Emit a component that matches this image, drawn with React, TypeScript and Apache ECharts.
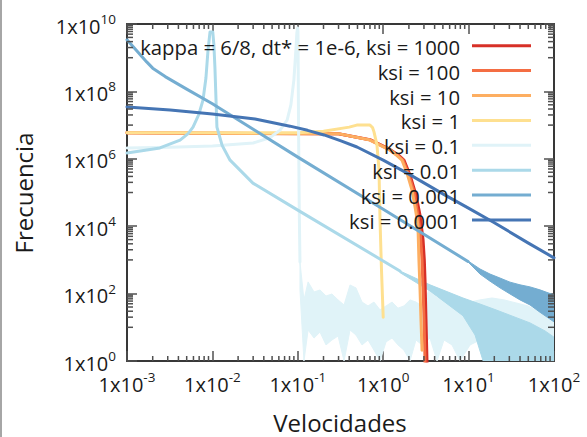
import React, { useEffect, useRef } from 'react';
import * as echarts from 'echarts';

const seriesNames = [
  'kappa = 6/8, dt* = 1e-6, ksi = 1000',
  'ksi = 100',
  'ksi = 10',
  'ksi = 1',
  'ksi = 0.1',
  'ksi = 0.01',
  'ksi = 0.001',
  'ksi = 0.0001',
];
const seriesColors = ['#d73027', '#f46d43', '#fdae61', '#fee090', '#e0f3f8', '#abd9e9', '#74add1', '#4575b4'];

const ksi1000 = [
  [0.001, 5.9e6], [0.3, 5.5e6], [0.7, 3.7e6], [1.2, 1.9e6], [1.5, 1.3e6], [1.75, 9.1e5], [2.06, 3.3e5], [2.42, 8.5e4],
  [2.7, 2.1e4], [2.93, 3.9e3], [3.03, 1.0e3], [3.09, 250], [3.17, 17], [3.26, 0.9],
];
const ksi100 = [
  [0.001, 5.9e6], [0.3, 5.5e6], [0.7, 3.65e6], [1.2, 1.85e6], [1.45, 1.3e6], [1.71, 9.1e5], [2.0, 3.3e5], [2.3, 1.0e5],
  [2.49, 3.0e4], [2.7, 7.8e3], [2.85, 1e3], [2.93, 130], [3.01, 17], [3.09, 0.9],
];
const ksi10 = [
  [0.001, 5.9e6], [0.31, 5.5e6], [0.7, 3.6e6], [1.2, 1.8e6], [1.45, 1.25e6], [1.66, 9.1e5], [1.9, 3.8e5], [2.17, 1.2e5],
  [2.36, 3.7e4], [2.55, 1.1e4], [2.62, 1000], [2.7, 130], [2.77, 16.6], [2.85, 2.1],
];
const ksi1 = [
  [0.001, 5.9e6], [0.1, 5.9e6], [0.2, 6.6e6], [0.4, 8.7e6], [0.49, 1e7], [0.7, 1e7], [0.75, 8.5e6], [0.78, 6.3e6],
  [0.845, 2.6e6], [0.893, 4.7e5], [0.918, 1.5e4], [0.955, 500], [1.0, 20],
];
const ksi01 = [
  [0.001, 2.1e6], [0.0032, 2.2e6], [0.01, 2.4e6], [0.03, 2.95e6], [0.047, 4.2e6], [0.062, 7.1e6],
  [0.075, 1.4e7], [0.083, 4e7], [0.09, 2.2e8], [0.095, 1.7e9], [0.0975, 5.5e9], [0.0995, 7.6e9], [0.1005, 6e9],
  [0.102, 1e7], [0.104, 3e4], [0.106, 870],
];
// noisy tail of ksi = 0.1 : upper and lower envelope
const ksi01TailX = [0.106, 0.118, 0.132, 0.155, 0.182, 0.214, 0.251, 0.296, 0.348, 0.409, 0.48, 0.565, 0.664, 0.78,
  0.917, 1.08, 1.27, 1.49, 1.75, 2.06, 2.42, 2.85, 3.53, 4.27, 5.15, 6.39, 7.93, 10.4, 13.6, 18.8, 26.0, 35.9, 49.6, 68.6, 100];
const ksi01TailHigh = [870, 65, 221, 112, 128, 85, 97, 65, 46, 180, 147, 56, 43, 56, 33, 43, 56, 37, 43, 65, 56, 43,
  147, 74, 97, 46, 49, 56, 65, 74, 65, 53, 43, 28, 14.4];
const ksi01TailLow = [128, 1, 8.3, 4.8, 7.2, 3.0, 4.2, 5.5, 1, 8.3, 5.9, 3.0, 4.2, 2.1, 1, 3.7, 4.8, 3.0, 2.1, 1, 4.2,
  3.0, 4.8, 1, 4.2, 3.0, 1, 3.0, 4.2, 3.7, 3.0, 3.0, 3.0, 3.0, 3.0];

const ksi001 = [
  [0.001, 1.48e6], [0.00243, 2.1e6], [0.00418, 3.6e6], [0.0052, 5.6e6], [0.00593, 8.7e6], [0.0069, 2.0e7],
  [0.00776, 5.5e7], [0.0084, 2.5e8], [0.00889, 1.7e9], [0.00938, 5.8e9], [0.0101, 5.8e9], [0.0104, 2.5e9],
  [0.0107, 5.3e8], [0.0113, 8.7e6], [0.013, 2.5e6], [0.0161, 9.1e5], [0.0298, 1.9e5],
  [0.1, 3.0e4], [1, 930], [1.57, 470],
];
const ksi001TailHigh = [[1.57, 470], [3.53, 182], [8.6, 74], [13.6, 49], [21.5, 32], [34.9, 20], [52.4, 13.5], [78.5, 7.8], [100, 5.1]];
const ksi001TailLow = [[1.57, 420], [3.53, 120], [8.6, 22], [11.9, 5.9], [14.8, 1], [100, 1]];

const ksi0001 = [
  [0.001, 3.4e9], [0.0013, 1.6e9], [0.0017, 7.5e8], [0.002, 4.9e8], [0.0028, 2.75e8], [0.005, 1.17e8], [0.01, 4.3e7], [0.1, 1.12e6],
  [1, 3.2e4], [9.84, 900],
];
const ksi0001TailX = [9.84, 13.6, 17.8, 23.3, 30.5, 40.0, 52.4, 68.5, 100];
const ksi0001TailHigh = [933, 537, 380, 290, 219, 182, 158, 129, 91];
const ksi0001TailLow = [870, 380, 234, 148, 98, 65, 46, 28, 14.5];

const ksi00001 = [
  [0.001, 3.47e7], [0.0032, 2.8e7], [0.01, 2.14e7], [0.0316, 1.51e7], [0.081, 9.3e6], [0.13, 7.0e6], [0.203, 5.1e6],
  [0.32, 3.4e6], [0.493, 2.24e6], [1, 9.1e5], [2, 3.5e5], [5, 9.1e4], [9.84, 3.5e4], [19.8, 1.29e4], [49.6, 3.2e3], [100, 1.15e3],
];

const xMin = 0.001;
const xMax = 100;
const yMin = 1;
const yMax = 1e10;
const xMinorTicks: number[] = [];
for (let d = -3; d <= 1; d++) for (let k = 2; k <= 9; k++) xMinorTicks.push(k * Math.pow(10, d));
const yMinorTicks: number[] = [];
for (let d = 1; d <= 9; d += 2) for (let k = 1; k <= 9; k++) yMinorTicks.push(k * Math.pow(10, d));

const FONT = 'Open Sans';
const AXIS_COLOR = '#383838';
const TICK_COLOR = '#505050';

function labelFormatter(v: number) {
  return `{b|1x10}{s|${Math.round(Math.log10(v))}}`;
}
const labelRich = {
  b: { fontSize: 20, fontFamily: FONT, color: '#1a1a1a', lineHeight: 24, verticalAlign: 'bottom' },
  s: { fontSize: 13.5, fontFamily: FONT, color: '#1a1a1a', lineHeight: 15, verticalAlign: 'top' },
};

function bandSeries(upper: number[][], lower: number[][], color: string) {
  return {
    type: 'custom',
    silent: true,
    clip: true,
    data: [[1, 1]],
    renderItem: (params: any, api: any) => {
      const pts = upper.map((p) => api.coord(p)).concat(lower.slice().reverse().map((p) => api.coord(p)));
      return { type: 'polygon', shape: { points: pts }, style: { fill: color, stroke: color, lineWidth: 1 } };
    },
  };
}

function lineSeries(name: string, data: number[][], color: string) {
  return {
    name,
    type: 'line',
    data,
    symbol: 'none',
    showSymbol: false,
    clip: true,
    silent: true,
    smooth: false,
    lineStyle: { color, width: 3, join: 'round', cap: 'round' },
  };
}

export default function App() {
  const ref = useRef<HTMLDivElement>(null);
  useEffect(() => {
    if (!ref.current) return;
    const chart = echarts.init(ref.current, undefined, { renderer: 'svg' });
    const zip = (xs: number[], ys: number[]) => xs.map((x, i) => [x, ys[i]]);

    const axisCommonX = {
      type: 'log',
      logBase: 10,
      min: xMin,
      max: xMax,
      splitNumber: 5,
      splitLine: { show: false },
      axisLine: { show: true, onZero: false, lineStyle: { color: AXIS_COLOR, width: 2 } },
      axisTick: { show: true, inside: true, length: 10, lineStyle: { color: TICK_COLOR, width: 1.5 } },
    };
    const axisCommonY = {
      type: 'log',
      logBase: 100,
      min: yMin,
      max: yMax,
      splitNumber: 5,
      splitLine: { show: false },
      axisLine: { show: true, onZero: false, lineStyle: { color: AXIS_COLOR, width: 2 } },
      axisTick: { show: true, inside: true, length: 10, lineStyle: { color: TICK_COLOR, width: 1.5 } },
    };

    const tickStyle = { stroke: TICK_COLOR, lineWidth: 1.5 };

    const legendGraphics: any[] = [];
    seriesNames.forEach((n, i) => {
      const y = 45.7 + i * 24.9;
      legendGraphics.push({
        type: 'text',
        x: 460,
        y: y + 1,
        silent: true,
        style: {
          text: n,
          fill: '#1a1a1a',
          font: `20.3px "${FONT}"`,
          lineHeight: 22,
          align: 'right',
          verticalAlign: 'middle',
        },
        z: 10,
      });
      legendGraphics.push({
        type: 'line',
        silent: true,
        shape: { x1: 472, y1: y, x2: 531, y2: y },
        style: { stroke: seriesColors[i], lineWidth: 3 },
        z: 10,
      });
    });

    chart.setOption({
      animation: false,
      backgroundColor: '#ffffff',
      grid: { left: 127, right: 33, top: 24, bottom: 76, containLabel: false },
      xAxis: [
        {
          ...axisCommonX,
          position: 'bottom',
          axisLabel: { show: true, margin: 9, formatter: labelFormatter, rich: labelRich },
        },
        { ...axisCommonX, position: 'top', axisLabel: { show: false } },
      ],
      yAxis: [
        {
          ...axisCommonY,
          position: 'left',
          axisLabel: { show: true, margin: 11, formatter: labelFormatter, rich: labelRich },
        },
        { ...axisCommonY, position: 'right', axisLabel: { show: false } },
      ],
      series: [
        lineSeries(seriesNames[0], ksi1000, seriesColors[0]),
        lineSeries(seriesNames[1], ksi100, seriesColors[1]),
        lineSeries(seriesNames[2], ksi10, seriesColors[2]),
        lineSeries(seriesNames[3], ksi1, seriesColors[3]),
        lineSeries(seriesNames[4], ksi01, seriesColors[4]),
        bandSeries(zip(ksi01TailX, ksi01TailHigh), zip(ksi01TailX, ksi01TailLow), seriesColors[4]),
        lineSeries(seriesNames[5], ksi001, seriesColors[5]),
        bandSeries(ksi001TailHigh, ksi001TailLow, seriesColors[5]),
        lineSeries(seriesNames[6], ksi0001, seriesColors[6]),
        bandSeries(zip(ksi0001TailX, ksi0001TailHigh), zip(ksi0001TailX, ksi0001TailLow), seriesColors[6]),
        lineSeries(seriesNames[7], ksi00001, seriesColors[7]),
        {
          type: 'custom',
          silent: true,
          z: 5,
          data: xMinorTicks.map((v) => [v, 1]),
          renderItem: (params: any, api: any) => {
            const v = api.value(0);
            const b = api.coord([v, yMin]);
            const t = api.coord([v, yMax]);
            return {
              type: 'group',
              children: [
                { type: 'line', shape: { x1: b[0], y1: b[1], x2: b[0], y2: b[1] - 5 }, style: tickStyle },
                { type: 'line', shape: { x1: t[0], y1: t[1], x2: t[0], y2: t[1] + 5 }, style: tickStyle },
              ],
            };
          },
        },
        {
          type: 'custom',
          silent: true,
          z: 5,
          data: yMinorTicks.map((v) => [xMin, v]),
          renderItem: (params: any, api: any) => {
            const v = api.value(1);
            const l = api.coord([xMin, v]);
            const r = api.coord([xMax, v]);
            return {
              type: 'group',
              children: [
                { type: 'line', shape: { x1: l[0], y1: l[1], x2: l[0] + 6, y2: l[1] }, style: tickStyle },
                { type: 'line', shape: { x1: r[0], y1: r[1], x2: r[0] - 6, y2: r[1] }, style: tickStyle },
              ],
            };
          },
        },
      ],
      graphic: [
        { type: 'rect', silent: true, shape: { x: 0, y: 0, width: 2, height: 437 }, style: { fill: '#a6a6a6' } },
        {
          type: 'text',
          silent: true,
          x: 23,
          y: 193,
          rotation: Math.PI / 2,
          style: { text: 'Frecuencia', fill: '#1a1a1a', font: `24px "${FONT}"`, align: 'center', verticalAlign: 'middle' },
        },
        {
          type: 'text',
          silent: true,
          x: 340,
          y: 422,
          style: { text: 'Velocidades', fill: '#1a1a1a', font: `24px "${FONT}"`, align: 'center', verticalAlign: 'middle' },
        },
        ...legendGraphics,
      ],
    });
    return () => chart.dispose();
  }, []);
  return (
    <div
      ref={ref}
      style={{ position: 'absolute', left: 0, top: 0, width: 587, height: 437, background: '#fff' }}
    />
  );
}
